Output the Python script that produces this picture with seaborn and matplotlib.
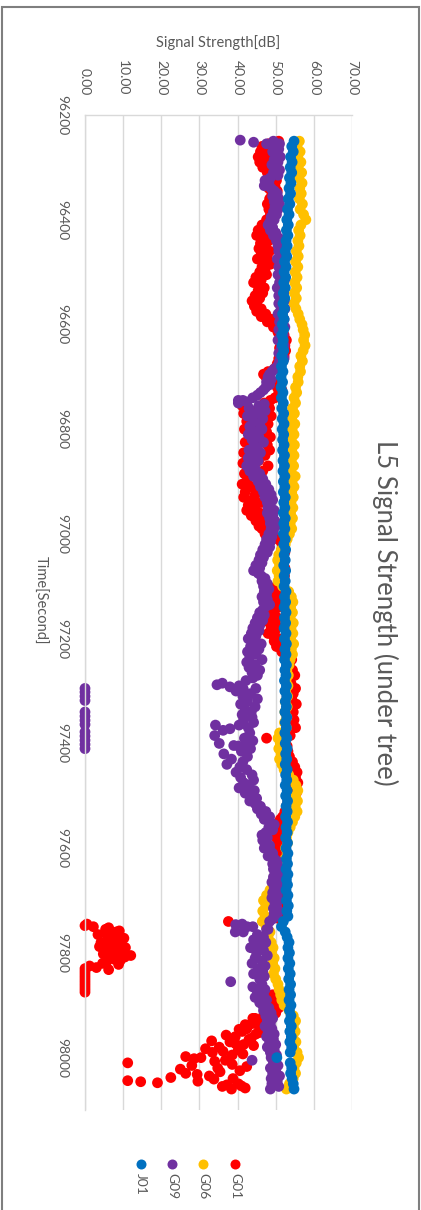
import numpy as np
import pandas as pd
import matplotlib
matplotlib.use("Agg")
import matplotlib.pyplot as plt
from matplotlib.lines import Line2D
from matplotlib.patches import Rectangle
import seaborn as sns

sns.set_style("white")
plt.rcParams["font.family"] = ["Lato", "DejaVu Sans"]

title = "L5 Signal Strength (under tree)"
x_title = "Time[Second]"
y_title = "Signal Strength[dB]"
series_names = ["G01", "G06", "G09", "J01"]
series_colors = ["#FF0000", "#FFC000", "#7030A0", "#0070C0"]
strength_ticks = [0, 10, 20, 30, 40, 50, 60, 70]
strength_labels = ["0.00", "10.00", "20.00", "30.00", "40.00", "50.00", "60.00", "70.00"]
time_ticks = [96200, 96400, 96600, 96800, 97000, 97200, 97400, 97600, 97800, 98000]
time_labels = ["96200", "96400", "96600", "96800", "97000", "97200", "97400", "97600", "97800", "98000"]

# epochs: G01/G09 kept every 5 s, G06/J01 every 10 s
time_5s = np.arange(96250, 98061, 5)
time_10s = np.arange(96250, 98061, 10)

g01 = [
    50.8, 48.2, 46.4, 48.8, 46.0, 47.6, 45.4, 47.2, 45.8, 48.0, 46.6, 48.6, 47.8, 49.6, 48.4, 50.2, 48.8, 49.8, 48.2, 50.4,
    49.0, 50.2, 48.4, 49.6, 47.8, 49.4, 48.2, 50.0, 48.6, 49.2, 47.6, 48.8, 46.4, 47.8, 45.4, 47.2, 45.0, 46.6, 48.2, 46.0,
    47.4, 45.6, 48.4, 46.2, 47.8, 45.2, 46.8, 48.6, 46.4, 47.2, 45.8, 47.6, 44.8, 46.2, 44.2, 45.8, 47.0, 45.4, 46.6, 44.6,
    45.8, 43.8, 45.0, 44.4, 46.2, 45.0, 47.4, 46.2, 48.8, 47.8, 50.2, 49.4, 51.6, 50.6, 52.2, 51.2, 52.8, 51.6, 52.4, 51.0,
    52.6, 51.4, 52.2, 50.8, 51.8, 50.4, 50.8, 49.6, 48.0, 46.8, 47.4, 48.6, 49.8, 51.0, 50.4, 51.6, 50.8, 51.4, 49.8, 48.6,
    47.0, 41.2, 48.4, 43.6, 41.6, 48.8, 46.4, 42.4, 48.0, 44.8, 41.8, 47.6, 43.2, 48.6, 46.2, 42.0, 47.8, 44.0, 48.4, 41.6,
    47.2, 42.8, 45.6, 41.4, 48.0, 43.8, 46.6, 41.8, 44.2, 42.6, 45.4, 41.2, 43.4, 45.8, 42.0, 44.6, 41.6, 43.8, 46.2, 42.8,
    44.6, 42.4, 45.8, 43.6, 46.8, 44.8, 47.2, 45.6, 46.4, 48.0, 47.2, 49.4, 50.6, 51.4, 51.8, 52.2, 51.6, 52.4, 51.2, 51.8,
    52.2, 51.4, 51.8, 52.4, 51.2, 51.9, 52.3, 51.5, 52.0, 50.8, 50.2, 49.4, 50.4, 48.6, 49.8, 48.2, 50.2, 49.0, 50.6, 48.8,
    49.6, 48.2, 50.4, 49.0, 48.4, 50.2, 48.8, 49.8, 48.0, 49.4, 50.8, 49.6, 51.4, 50.2, 52.2, 51.6, 53.2, 52.6, 54.2, 53.4,
    53.6, 52.8, 54.4, 53.2, 55.0, 53.4, 52.8, 54.0, 53.6, 55.2, 53.4, 54.6, 53.0, 54.2, 53.6, 55.4, 53.0, 54.0, 54.6, 53.2,
    53.8, 54.8, 53.0, 54.0, 55.2, 53.4, 52.6, 53.8, 47.6, 52.4, 52.0, 53.0, 52.2, 53.2, 52.6, 53.6, 53.0, 54.4, 53.6, 55.0,
    54.4, 55.6, 54.0, 55.2, 54.2, 55.8, 53.8, 54.8, 54.4, 55.4, 53.6, 54.6, 53.2, 54.4, 52.8, 53.6, 52.4, 53.0, 51.8, 51.2,
    51.2, 50.6, 51.4, 50.4, 51.0, 50.8, 50.2, 51.2, 50.6, 51.4, 50.4, 51.0, 51.6, 51.2, 52.0, 51.4, 52.2, 51.6, 51.8, 51.2,
    51.8, 52.2, 51.4, 51.8, 52.4, 51.6, 52.0, 51.2, 51.8, 51.4, 52.0, 51.6, 51.2, 51.8, 51.4, 52.0, 51.6, 51.0, 37.6, 0.5,
    2.2, 5.4, 8.2, 3.4, 6.8, 9.6, 4.2, 7.4, 10.6, 5.8, 8.6, 12.0, 6.4, 9.2, 4.6, 1.2, 0.0, 0.0, 0.0, 0.0,
    0.0, 0.0, 0.0, 0.0, 0.0, 0.0, 49.2, 50.6, 48.4, 50.2, 49.0, 50.8, 48.6, 50.0, 46.8, 44.6, 46.2, 43.8, 45.6, 42.4,
    41.2, 44.8, 39.4, 43.0, 38.0, 41.6, 35.2, 40.2, 33.4, 38.6, 30.4, 36.8, 11.2, 28.0, 34.8, 40.6, 26.4, 32.6, 38.8, 29.6,
    40.2, 36.0, 38.4,
]

g09 = [
    49.4, 51.0, 49.8, 50.8, 49.2, 50.4, 51.2, 49.6, 50.6, 49.0, 50.2, 51.0, 49.4, 50.6, 48.6, 47.2, 48.2, 47.0, 48.8, 49.6,
    50.4, 49.2, 50.8, 49.6, 51.0, 49.8, 50.6, 49.4, 50.2, 48.8, 49.6, 48.4, 48.0, 49.2, 48.6, 50.0, 49.4, 50.8, 50.2, 51.2,
    50.6, 51.8, 50.8, 52.0, 51.2, 50.4, 51.6, 52.2, 50.8, 51.4, 52.0, 50.6, 51.6, 52.3, 51.0, 51.8, 50.4, 51.4, 52.1, 50.8,
    51.6, 52.2, 50.8, 51.8, 52.4, 51.2, 50.6, 51.8, 52.2, 51.0, 51.6, 52.4, 50.8, 51.6, 52.0, 51.2, 50.6, 51.8, 52.2, 51.4,
    51.8, 50.8, 51.6, 52.2, 51.0, 51.4, 50.4, 49.6, 49.0, 48.4, 48.0, 48.8, 47.6, 48.4, 47.4, 46.8, 46.0, 45.2, 44.0, 41.4,
    40.2, 45.6, 43.0, 47.2, 44.8, 42.6, 46.6, 44.2, 45.8, 43.2, 46.4, 44.6, 42.8, 45.6, 43.8, 46.8, 44.4, 45.2, 43.0, 46.0,
    44.8, 42.8, 45.4, 43.6, 42.4, 44.6, 43.2, 45.8, 44.2, 46.6, 45.4, 47.4, 46.0, 48.2, 46.8, 48.8, 47.2, 49.2, 47.8, 48.6,
    48.0, 49.6, 47.8, 49.2, 48.4, 49.8, 48.6, 50.0, 48.8, 49.4, 48.2, 49.0, 47.6, 48.6, 47.2, 48.4, 46.6, 47.8, 46.0, 46.8,
    45.6, 46.4, 44.8, 45.8, 44.2, 45.4, 46.2, 47.2, 46.4, 47.8, 46.8, 48.2, 47.0, 47.6, 46.4, 47.8, 46.8, 48.4, 47.2, 46.6,
    45.8, 47.0, 45.2, 46.6, 44.6, 45.8, 44.0, 45.6, 43.6, 44.8, 42.8, 44.4, 46.2, 43.4, 45.6, 42.6, 44.8, 43.2, 46.4, 42.4,
    44.6, 43.0, 45.8, 43.8, 45.2, 44.0, 42.2, 36.0, 40.4, 44.8, 39.6, 43.4, 41.4, 45.2, 42.6, 40.8, 44.6, 42.0, 43.6, 41.2,
    43.8, 41.6, 44.2, 40.4, 42.8, 36.2, 43.2, 34.0, 41.8, 44.0, 42.2, 40.2, 43.4, 41.0, 36.4, 42.6, 38.4, 41.4, 37.2, 40.6,
    42.4, 39.6, 43.8, 40.8, 44.2, 41.6, 43.0, 40.4, 44.4, 42.0, 43.6, 45.0, 43.2, 44.6, 46.0, 45.2, 47.4, 46.2, 48.4, 47.0,
    48.6, 49.6, 48.2, 49.2, 47.4, 46.4, 47.8, 46.6, 47.2, 48.4, 47.0, 48.6, 49.2, 48.0, 49.6, 50.4, 49.2, 50.6, 49.4, 50.2,
    50.8, 49.4, 50.2, 49.0, 50.6, 49.6, 50.8, 49.2, 50.4, 49.0, 50.6, 49.8, 50.2, 49.4, 50.8, 49.6, 50.2, 49.2, 48.4, 41.2,
    44.0, 47.6, 39.4, 45.2, 46.8, 44.2, 47.4, 45.6, 43.4, 46.8, 45.0, 47.8, 44.6, 46.4, 43.8, 47.2, 45.4, 46.6, 44.2, 47.0,
    45.8, 38.2, 46.4, 44.0, 47.2, 45.2, 46.8, 44.6, 47.6, 45.8, 46.6, 48.2, 46.8, 48.8, 47.4, 49.2, 47.8, 48.6, 47.2, 49.0,
    48.0, 49.6, 47.6, 49.4, 48.4, 50.0, 47.8, 49.6, 48.6, 50.2, 48.8, 43.8, 49.4, 50.6, 48.6, 50.0, 49.2, 51.0, 48.8, 50.4,
    49.0, 50.8, 48.6,
]

g06 = [
    56.2, 55.6, 56.4, 55.8, 56.6, 55.9, 56.8, 56.1, 56.9, 56.3,
    56.7, 56.2, 57.0, 56.4, 57.3, 57.9, 56.6, 56.0, 56.4, 55.8,
    56.1, 55.4, 55.9, 55.2, 55.8, 55.1, 55.6, 55.0, 55.5, 54.9,
    55.4, 54.8, 55.3, 55.9, 56.3, 56.9, 57.2, 57.6, 57.3, 57.7,
    57.2, 56.6, 57.0, 56.3, 56.5, 55.8, 55.9, 55.2, 55.5, 54.8,
    55.2, 54.4, 54.9, 54.2, 55.0, 54.3, 54.8, 54.1, 54.9, 54.2,
    54.8, 54.1, 54.7, 54.0, 55.1, 54.3, 54.8, 54.2, 54.6, 54.0,
    54.5, 53.9, 54.4, 53.8, 54.2, 53.6, 53.0, 52.5, 51.5, 50.8,
    50.5, 51.0, 50.4, 50.9, 50.6, 51.8, 53.4, 54.1, 54.5, 53.9,
    54.4, 53.8, 54.6, 54.0, 54.5, 53.9, 54.7, 54.1, 54.4, 53.8,
    53.5, 52.9, 53.3, 52.7, 53.2, 52.6, 53.1, 52.5, 53.0, 52.4,
    52.9, 52.3, 52.8, 51.0, 50.6, 51.2, 50.8, 51.4, 51.0, 51.6,
    52.2, 53.4, 54.6, 55.3, 55.8, 55.2, 55.7, 55.1, 55.6, 55.0,
    54.4, 53.8, 53.2, 52.8, 53.1, 52.6, 53.0, 52.5, 52.9, 52.4,
    52.0, 51.2, 50.0, 48.5, 47.6, 46.8, 47.4, 46.6, 47.2, 46.5,
    47.5, 48.5, 48.0, 48.8, 49.3, 48.9, 49.6, 49.2, 49.8, 49.4,
    50.0, 50.6, 50.9, 51.3, 51.6, 52.2, 53.5, 54.6, 55.2, 54.6,
    55.1, 54.5, 55.3, 54.7, 55.6, 56.0, 55.4, 54.8, 55.2, 54.6,
    53.6, 52.8,
]

j01 = [
    54.8, 54.2, 54.6, 53.9, 54.3, 53.8, 54.2, 53.6, 54.0, 53.5,
    53.9, 53.3, 53.7, 53.1, 53.5, 52.9, 53.3, 52.8, 53.2, 52.7,
    53.0, 52.5, 52.9, 52.3, 52.7, 52.2, 52.6, 52.1, 52.5, 52.0,
    52.4, 51.9, 52.3, 51.8, 52.2, 51.7, 52.1, 51.6, 52.0, 51.7,
    52.1, 51.6, 52.0, 51.5, 51.9, 51.4, 51.8, 51.4, 51.9, 51.5,
    52.0, 51.6, 52.1, 51.7, 52.2, 51.7, 52.1, 51.8, 52.2, 51.8,
    52.3, 51.9, 52.3, 51.9, 52.4, 52.0, 52.4, 52.0, 52.5, 52.1,
    52.4, 52.0, 52.5, 52.1, 52.4, 52.0, 52.5, 52.1, 52.6, 52.2,
    52.5, 52.1, 52.6, 52.2, 52.5, 52.2, 52.7, 52.3, 52.6, 52.2,
    52.7, 52.3, 52.6, 52.2, 52.7, 52.3, 52.8, 52.4, 52.7, 52.3,
    52.8, 52.4, 52.7, 52.3, 52.8, 52.4, 52.9, 52.5, 52.8, 52.4,
    52.9, 52.5, 52.8, 52.4, 52.9, 52.5, 53.0, 52.6, 52.9, 52.5,
    53.0, 52.6, 52.9, 52.5, 53.0, 52.6, 53.1, 52.7, 53.0, 52.6,
    53.1, 52.7, 53.0, 52.6, 53.1, 52.7, 53.2, 52.8, 53.1, 52.7,
    53.2, 52.8, 53.1, 52.7, 53.2, 52.8, 53.3, 52.9, 53.2, 52.0,
    51.5, 52.5, 53.0, 53.5, 53.2, 53.6, 53.2, 53.7, 53.3, 53.8,
    53.4, 53.9, 53.5, 53.9, 53.5, 54.0, 53.6, 54.0, 53.6, 54.1,
    53.7, 54.1, 53.7, 54.2, 53.8, 50.3, 53.8, 54.2, 53.9, 54.3,
    54.6, 54.8,
]

# G01 extra epochs inside the low-C/N0 burst and the recovery tail
g01_extra_t = [97748, 97752, 97758, 97762, 97767, 97772, 97778, 97782, 97788, 97792,
               97798, 97802, 97808, 97812, 97818, 97822, 97828, 97832,
               97925, 97932, 97937, 97946, 97952, 97957, 97963, 97968, 97973, 97977,
               97983, 97988, 97993, 97998, 98002, 98007, 98013, 98017, 98022, 98027,
               98032, 98038, 98041, 98044, 98046, 98048, 98052, 98054, 98058]
g01_extra_v = [0.0, 6.2, 9.0, 5.2, 7.8, 10.2, 6.0, 8.4, 3.8, 9.4,
               7.0, 4.8, 10.4, 7.6, 5.6, 8.8, 3.0, 6.2,
               44.0, 46.6, 42.0, 40.4, 45.8, 37.0, 43.6, 33.2, 39.4, 44.2,
               31.6, 36.2, 41.4, 26.4, 28.6, 34.0, 38.6, 42.4, 25.0, 35.4,
               29.4, 22.5, 33.8, 11.2, 14.6, 19.0, 37.2, 41.0, 42.0]

# G09 extra epochs: scattered outliers and loss-of-lock zeros
g09_extra_t = [96248, 96252, 96255, 96745, 96748, 96752,
               97288, 97292, 97296, 97365, 97372, 97400, 97404,
               97746, 97750, 97755, 97760,
               97295, 97302, 97310, 97318, 97340, 97348, 97356, 97364,
               97378, 97386, 97394, 97402, 97410]
g09_extra_v = [40.7, 44.2, 47.6, 40.2, 42.5, 47.0,
               34.6, 38.0, 41.5, 34.2, 38.0, 35.2, 39.0,
               39.5, 42.5, 48.0, 41.5,
               0.0, 0.0, 0.0, 0.0, 0.0, 0.0, 0.0, 0.0,
               0.0, 0.0, 0.0, 0.0, 0.0]

frames = [
    pd.DataFrame({"time": time_5s, "strength": g01, "series": "G01"}),
    pd.DataFrame({"time": g01_extra_t, "strength": g01_extra_v, "series": "G01"}),
    pd.DataFrame({"time": time_10s, "strength": g06, "series": "G06"}),
    pd.DataFrame({"time": time_5s, "strength": g09, "series": "G09"}),
    pd.DataFrame({"time": g09_extra_t, "strength": g09_extra_v, "series": "G09"}),
    pd.DataFrame({"time": time_10s, "strength": j01, "series": "J01"}),
]
df = pd.concat(frames, ignore_index=True)

W, H = 421, 1210
fig = plt.figure(figsize=(W / 100, H / 100), dpi=100)
fig.patch.set_facecolor("white")
ax = fig.add_axes([85 / W, 1 - 1110 / H, 267 / W, 995 / H])

sns.scatterplot(data=df, x="strength", y="time", hue="series", hue_order=series_names,
                palette=series_colors, s=60, linewidth=0, alpha=1, legend=False, ax=ax)
for coll in ax.collections:
    coll.set_clip_on(False)

ax.set_xlim(0, 70)
ax.set_ylim(98100, 96200)
ax.set_xlabel("")
ax.set_ylabel("")

text_color = "#595959"
ax.xaxis.tick_top()
ax.set_xticks(strength_ticks)
ax.set_xticklabels(strength_labels, rotation=270)
ax.tick_params(axis="x", length=0, pad=14, labelsize=10, labelcolor=text_color,
               top=True, bottom=False, labeltop=True, labelbottom=False)
ax.set_yticks(time_ticks)
ax.set_yticklabels(time_labels, rotation=270, va="center")
ax.tick_params(axis="y", length=0, pad=12, labelsize=10, labelcolor=text_color)

ax.grid(axis="x", color="#d9d9d9", lw=1)
ax.grid(axis="y", visible=False)
ax.set_axisbelow(True)
for side in ["right", "bottom"]:
    ax.spines[side].set_visible(False)
for side in ["top", "left"]:
    ax.spines[side].set_color("#d9d9d9")
    ax.spines[side].set_linewidth(1)

fig.text(218 / W, 1 - 43 / H, y_title, ha="center", va="center", fontsize=10.5, color=text_color)
fig.text(40 / W, 1 - 600 / H, x_title, ha="center", va="center", rotation=270,
         fontsize=10.5, color=text_color)
fig.text(385 / W, 1 - 613 / H, title, ha="center", va="center", rotation=270,
         fontsize=18.5, color=text_color)

# legend laid out along the bottom, matching the rotated orientation
legend_x = {"J01": 141, "G09": 172, "G06": 203, "G01": 235}
for name, color in zip(series_names, series_colors):
    lx = legend_x[name] / W
    fig.add_artist(Line2D([lx], [1 - 1164 / H], marker="o", markersize=7.2, color=color,
                          markeredgewidth=0, linestyle="none", transform=fig.transFigure))
    fig.text(lx, 1 - 1173 / H, name, ha="center", va="top", rotation=270,
             fontsize=10, color=text_color)

fig.add_artist(Rectangle((2 / W, -0.05), 417 / W, 1.05 - 7 / H, transform=fig.transFigure,
                         fill=False, edgecolor="#7f7f7f", linewidth=1.5))

fig.savefig("out.png", dpi=100)
